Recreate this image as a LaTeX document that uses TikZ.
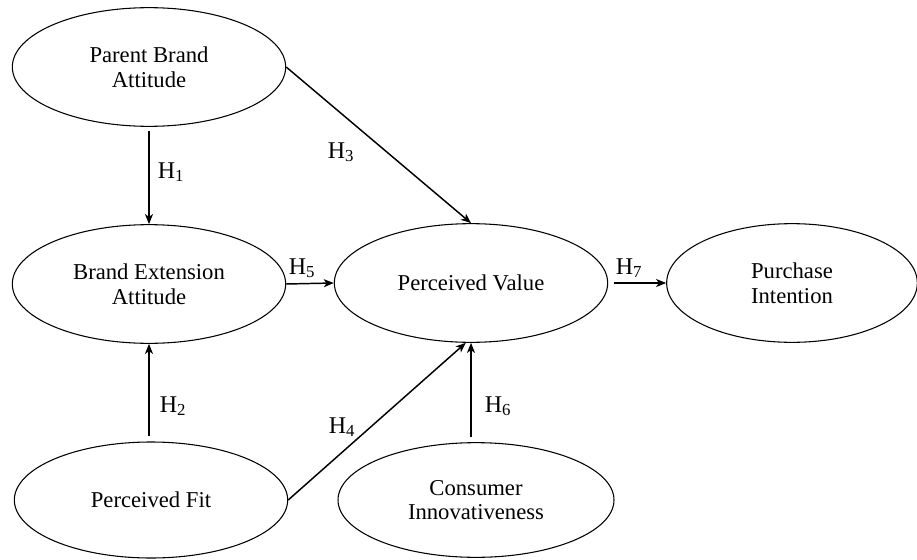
\documentclass[tikz,border=0pt]{standalone}
\usepackage{fontspec}
\setmainfont{Liberation Serif}
\usetikzlibrary{shapes.geometric}
\usetikzlibrary{arrows.meta}

\tikzset{
  construct/.style={ellipse, draw, line width=0.8pt, inner sep=0pt,
    minimum width=205pt, minimum height=89pt, align=center,
    font=\fontsize{17}{18.5}\selectfont},
  link/.style={line width=1.1pt, -{Stealth[length=7.5pt,width=6pt,inset=2pt]}},
  hyp/.style={inner sep=0pt, font=\fontsize{18}{20}\selectfont}
}

\begin{document}
\begin{tikzpicture}[x=0.75pt, y=-0.75pt]

  \useasboundingbox (0,0) rectangle (917,560);

  % Constructs
  \node[construct] (pba) at (149,67)  {Parent Brand\\Attitude};
  \node[construct] (bea) at (149,284) {Brand Extension\\Attitude};
  \node[construct] (pv)  at (471,283) {Perceived Value};
  \node[construct, minimum width=188pt] (pi) at (792,283) {Purchase\\Intention};
  \node[construct, minimum height=87pt] (pf) at (151,500) {Perceived Fit};
  \node[construct, minimum width=207pt, minimum height=86pt] (ci) at (476,500) {Consumer\\Innovativeness};

  % Hypothesised paths
  \draw[link, shorten <=3pt] (pba.south) -- (bea.north);
  \draw[link, shorten <=4pt] (bea.south |- pf.north) -- (bea.south);
  \draw[link] (pba.east) -- (pv.north);
  \draw[link] (pf.east) -- (pv.265);
  \draw[link] (bea.east) -- (pv.west);
  \draw[link, shorten <=4pt] (pv.south |- ci.north) -- (pv.south);
  \draw[link, shorten <=4pt] (pv.east) -- (pi.west);

  % Labels
  \node[hyp] (h1) at (171,172) {H\textsubscript{1}};
  \node[hyp] (h2) at (173,406) {H\textsubscript{2}};
  \node[hyp] (h3) at (341,152) {H\textsubscript{3}};
  \node[hyp] (h4) at (342,427) {H\textsubscript{4}};
  \node[hyp] (h5) at (302,268) {H\textsubscript{5}};
  \node[hyp] (h6) at (498,406) {H\textsubscript{6}};
  \node[hyp] (h7) at (629,268) {H\textsubscript{7}};

\end{tikzpicture}
\end{document}
